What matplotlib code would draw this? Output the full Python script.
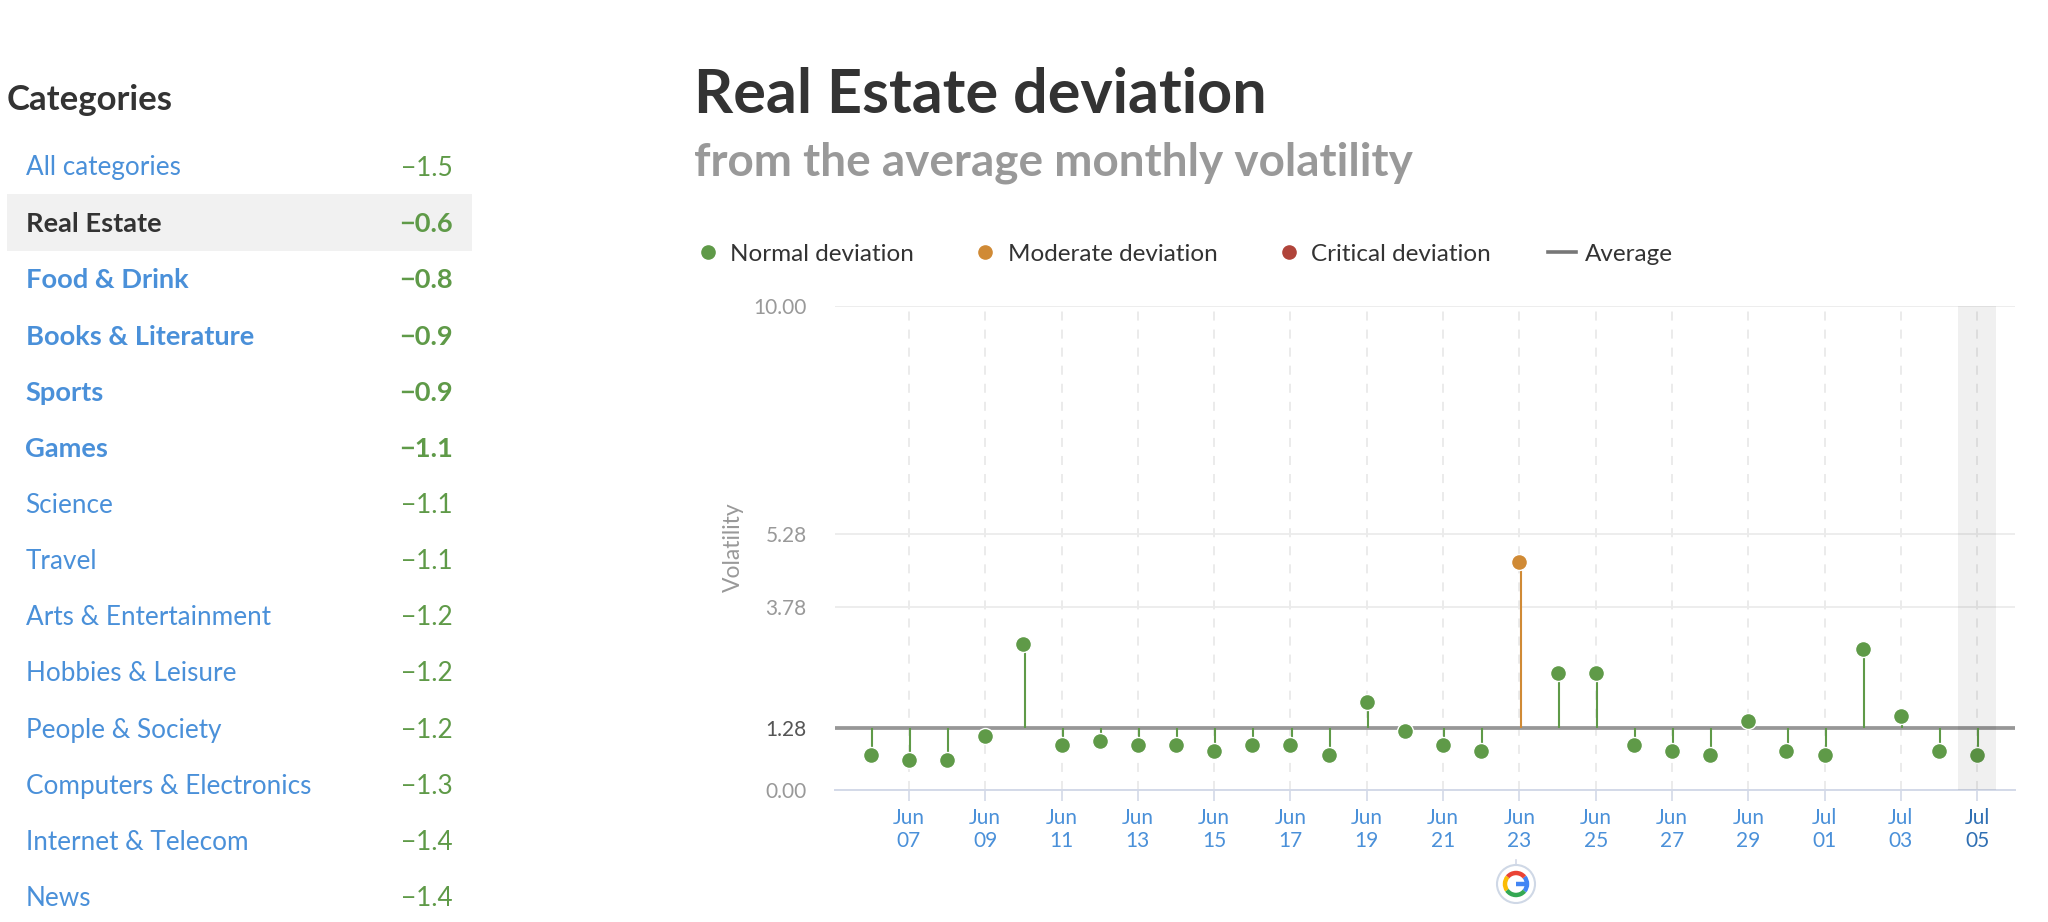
import matplotlib
matplotlib.use("Agg")
import matplotlib.pyplot as plt
from matplotlib.lines import Line2D
from matplotlib.patches import Rectangle, Circle, Arc

FONT = ["Lato", "DejaVu Sans"]
plt.rcParams["font.family"] = FONT

categories = ["All categories", "Real Estate", "Food & Drink", "Books & Literature", "Sports", "Games",
              "Science", "Travel", "Arts & Entertainment", "Hobbies & Leisure", "People & Society",
              "Computers & Electronics", "Internet & Telecom", "News"]
category_values = ["−1.5", "−0.6", "−0.8", "−0.9", "−0.9", "−1.1", "−1.1", "−1.1", "−1.2", "−1.2", "−1.2",
                   "−1.3", "−1.4", "−1.4"]
bold_categories = ["Real Estate", "Food & Drink", "Books & Literature", "Sports", "Games"]

days = ["Jun 06", "Jun 07", "Jun 08", "Jun 09", "Jun 10", "Jun 11", "Jun 12", "Jun 13", "Jun 14", "Jun 15",
        "Jun 16", "Jun 17", "Jun 18", "Jun 19", "Jun 20", "Jun 21", "Jun 22", "Jun 23", "Jun 24", "Jun 25",
        "Jun 26", "Jun 27", "Jun 28", "Jun 29", "Jun 30", "Jul 01", "Jul 02", "Jul 03", "Jul 04", "Jul 05"]
volatility = [0.72, 0.62, 0.62, 1.12, 3.02, 0.92, 1.01, 0.92, 0.92, 0.81,
              0.92, 0.92, 0.72, 1.81, 1.22, 0.92, 0.81, 4.71, 2.42, 2.42,
              0.92, 0.81, 0.72, 1.42, 0.81, 0.72, 2.92, 1.52, 0.81, 0.72]
average = 1.28
ytick_values = [0.00, 1.28, 3.78, 5.28, 10.00]
moderate_from = 3.78

GREEN, ORANGE, RED = "#5f9a48", "#d08a35", "#b0443a"
BLUE, DARK, GRAY = "#4a90d9", "#333333", "#999999"

W, H = 2048, 922
fig = plt.figure(figsize=(W / 100, H / 100), dpi=100, facecolor="white")

page = fig.add_axes([0, 0, 1, 1], zorder=0)
page.set_xlim(0, W)
page.set_ylim(H, 0)
page.axis("off")

page.text(7, 100.5, "Categories", fontsize=25, fontweight="bold", color=DARK, va="center")
page.add_patch(Rectangle((7, 194), 465, 57, fc="#f1f1f1", ec="none"))
ROW0, ROWSTEP = 168, 56.2
for i, (name, val) in enumerate(zip(categories, category_values)):
    y = ROW0 + i * ROWSTEP
    is_bold = name in bold_categories
    col = DARK if name == "Real Estate" else BLUE
    size = 19.6 if is_bold else 18.8
    weight = "bold" if is_bold else "normal"
    page.text(25.5, y, name, fontsize=size, color=col, va="center", fontweight=weight)
    page.text(453, y, val, fontsize=size, color=GREEN, va="center", ha="right", fontweight=weight)

page.text(694, 95, "Real Estate deviation", fontsize=44, fontweight="bold", color=DARK, va="center")
page.text(694, 163, "from the average monthly volatility", fontsize=33, fontweight="bold", color=GRAY, va="center")

ax = fig.add_axes([834.5 / W, 1 - 790 / H, (2015 - 834.5) / W, (790 - 306) / H], zorder=1)
ax.patch.set_alpha(0)
x = list(range(len(days)))
ax.set_xlim(-0.95, 29.99)
ax.set_ylim(0, 10)

tick_idx = x[1::2]
tick_labels = [d.replace(" ", "\n") for d in days[1::2]]
ax.set_xticks(tick_idx)
ax.set_xticklabels(tick_labels, fontsize=15, color=BLUE, linespacing=1.2)
ax.get_xticklabels()[-1].set_color("#2f6fb3")
ax.set_yticks(ytick_values)
ax.set_yticklabels([f"{v:.2f}" for v in ytick_values], fontsize=15, color=GRAY)
ax.get_yticklabels()[1].set_color("#555555")
ax.tick_params(axis="y", length=0, pad=20)
ax.tick_params(axis="x", length=8, width=1.2, color="#d3d9e8", pad=5)
for s in ["top", "right", "left"]:
    ax.spines[s].set_visible(False)
ax.spines["bottom"].set_color("#d3d9e8")
ax.spines["bottom"].set_linewidth(1.4)
ax.grid(axis="y", color="#ececec", lw=1.3, zorder=0)
ax.grid(axis="x", color="#e9e9e9", lw=1.3, ls=(0, (5, 5)), zorder=0)
ax.set_axisbelow(True)
ax.set_ylabel("Volatility", fontsize=16.5, color=GRAY)
ax.yaxis.set_label_coords((744 - 834.5) / (2015 - 834.5), (790 - 547) / 484)

ax.axhline(average, color="#979797", lw=2.7, zorder=2)
for xi, v in zip(x, volatility):
    col = ORANGE if v > moderate_from else GREEN
    ax.plot([xi + 0.03, xi + 0.03], [average, v], color=col, lw=1.5, zorder=3, solid_capstyle="butt")
    ax.plot([xi], [v], "o", ms=11.5, mfc=col, mec="white", mew=1.0, zorder=4)
ax.axvspan(28.5, 29.5, color="black", alpha=0.058, lw=0, zorder=5)

handles = [Line2D([], [], ls="", marker="o", ms=9.5, color=GREEN),
           Line2D([], [], ls="", marker="o", ms=9.5, color=ORANGE),
           Line2D([], [], ls="", marker="o", ms=9.5, color=RED),
           Line2D([], [], color="#777777", lw=2.6)]
leg = fig.legend(handles, ["Normal deviation", "Moderate deviation", "Critical deviation", "Average"],
                 loc="center left", bbox_to_anchor=(672 / W, 1 - 254 / H), ncol=4, frameon=False,
                 fontsize=17.5, labelcolor=DARK, handlelength=1.15, handletextpad=0.35, columnspacing=2.35)

cx, cy, r = 1516, 884, 19
page.plot([cx, cx], [860, cy - r], color="#d3d9e8", lw=1.2)
page.add_patch(Circle((cx, cy), r, fc="white", ec="#cfd8e6", lw=1.5, zorder=3))
for a0, a1, c in [(-40, 40, "#4285f4"), (40, 140, "#ea4335"), (140, 215, "#fbbc05"), (215, 320, "#34a853")]:
    page.add_patch(Arc((cx, cy), 22, 22, theta1=-a1, theta2=-a0, color=c, lw=3.2, zorder=4))
page.plot([cx, cx + 11], [cy, cy], color="#4285f4", lw=3.2, zorder=4, solid_capstyle="butt")

fig.savefig("out.png", dpi=100, facecolor="white")
